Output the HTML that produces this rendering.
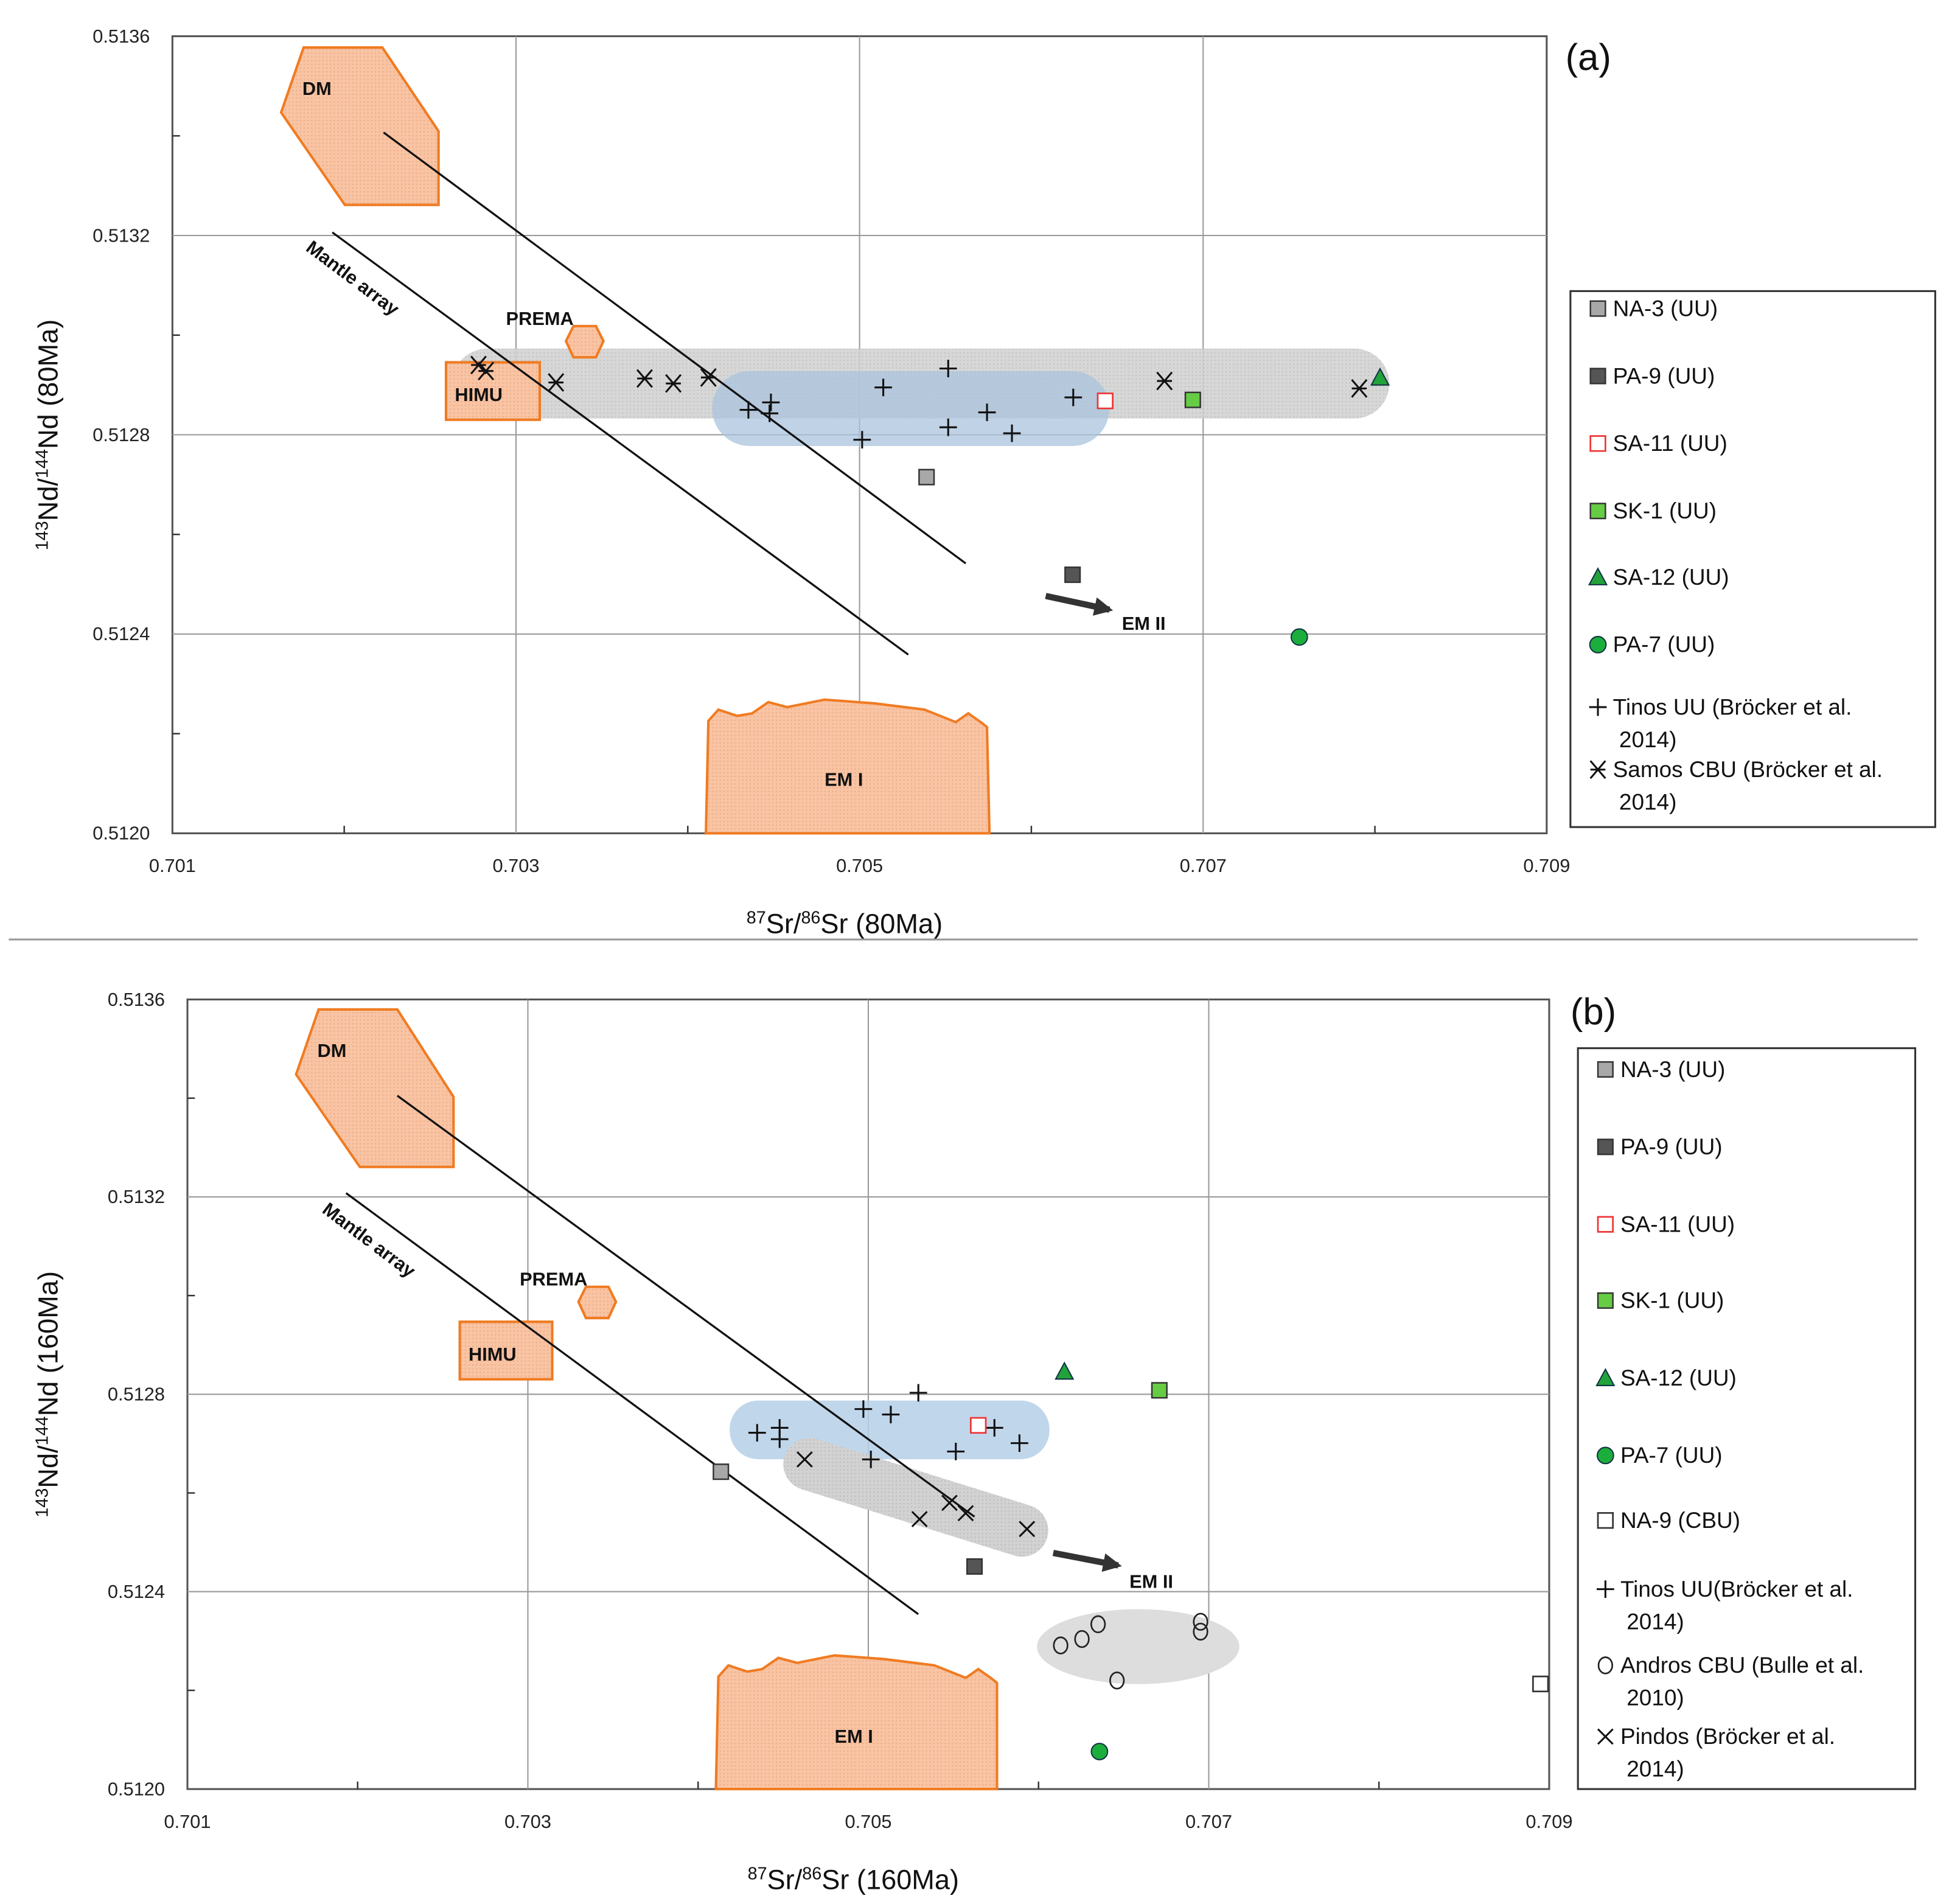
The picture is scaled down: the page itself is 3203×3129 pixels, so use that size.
<!DOCTYPE html>
<html><head><meta charset="utf-8"><style>
html,body{margin:0;padding:0;background:#fff}
svg{display:block;font-family:"Liberation Sans",sans-serif}
.tk{font-size:15px;fill:#222}
.lg{font-size:18px;fill:#111}
.lb{font-size:15px;font-weight:bold;fill:#111}
</style></head><body>
<svg id="chart" width="3203" height="3129" viewBox="0 0 1560 1524" xmlns="http://www.w3.org/2000/svg">
<defs>
<pattern id="dots" width="3" height="3" patternUnits="userSpaceOnUse"><rect width="3" height="3" fill="#d2d2d2"/><rect width="1" height="1" fill="#bbb"/></pattern>
<pattern id="orng" width="3" height="3" patternUnits="userSpaceOnUse"><rect width="3" height="3" fill="#f8c4a4"/><rect width="1" height="1" fill="#f0a880"/></pattern>
<marker id="arr" viewBox="0 0 10 10" refX="8" refY="5" markerWidth="3" markerHeight="3" orient="auto"><path d="M0,0L10,5L0,10z" fill="#333"/></marker>
</defs>
<g id="pa"></g>
<g id="pb"></g>
<line x1="7" y1="752" x2="1535" y2="752" stroke="#999" stroke-width="1.5"/>
</svg>
<script>
// ---- data: panel a (80 Ma) ----
const xTicks = [0.701, 0.703, 0.705, 0.707, 0.709];
const yTicks = [0.5120, 0.5124, 0.5128, 0.5132, 0.5136];
const aNA3 = [[0.70539, 0.512715]];
const aPA9 = [[0.70624, 0.512519]];
const aSA11 = [[0.70643, 0.512868]];
const aSK1 = [[0.70694, 0.51287]];
const aSA12 = [[0.70803, 0.512915]];
const aPA7 = [[0.70756, 0.512394]];
const aTinosX = [0.704353, 0.704484, 0.704476, 0.705015, 0.705138, 0.705516, 0.705516, 0.705742, 0.705887, 0.706244];
const aTinosY = [0.51285, 0.512865, 0.512843, 0.51279, 0.512895, 0.512933, 0.512815, 0.512845, 0.512803, 0.512875];
const aSamosX = [0.702782, 0.702825, 0.703233, 0.703749, 0.703916, 0.70412, 0.706775, 0.707909];
const aSamosY = [0.51294, 0.512928, 0.512905, 0.512913, 0.512903, 0.512915, 0.512908, 0.512893];
// ---- data: panel b (160 Ma) ----
const bNA3 = [[0.704134, 0.512643]];
const bPA9 = [[0.705624, 0.512451]];
const bSA11 = [[0.705646, 0.512737]];
const bSK1 = [[0.70671, 0.512808]];
const bSA12 = [[0.706152, 0.512846]];
const bPA7 = [[0.706358, 0.512076]];
const bNA9 = [[0.708949, 0.512213]];
const bTinosX = [0.704347, 0.704479, 0.704479, 0.704971, 0.705132, 0.705294, 0.705514, 0.705741, 0.705888, 0.705015];
const bTinosY = [0.512722, 0.512732, 0.512709, 0.51277, 0.512759, 0.512803, 0.512684, 0.512732, 0.512701, 0.512668];
const bPindosX = [0.704626, 0.705301, 0.705477, 0.705572, 0.705932];
const bPindosY = [0.512668, 0.512547, 0.51258, 0.512559, 0.512527];
const bAndrosX = [0.70613, 0.706255, 0.70635, 0.706461, 0.706952, 0.706952];
const bAndrosY = [0.512291, 0.512304, 0.512334, 0.51222, 0.512339, 0.512319];

const NS = "http://www.w3.org/2000/svg";
function mk(parent, tag, attrs, txt) {
  const e = document.createElementNS(NS, tag);
  for (const k in attrs) e.setAttribute(k, attrs[k]);
  if (txt !== undefined) e.textContent = txt;
  parent.appendChild(e);
  return e;
}
function scales(x0, x1, y0, y1) {
  return {
    sx: v => x0 + (v - 0.701) / 0.008 * (x1 - x0),
    sy: v => y1 - (v - 0.5120) / 0.0016 * (y1 - y0),
    x0, x1, y0, y1
  };
}
function marker(g, type, cx, cy, name) {
  let e;
  const s = 6;
  if (type === 'sq') e = mk(g, 'rect', {x: cx - s, y: cy - s, width: 2 * s, height: 2 * s, fill: arguments[5], stroke: '#333', 'stroke-width': 1.2});
  else if (type === 'osq') e = mk(g, 'rect', {x: cx - s, y: cy - s, width: 2 * s, height: 2 * s, fill: '#fff', stroke: arguments[5], 'stroke-width': 1.3});
  else if (type === 'tri') e = mk(g, 'path', {d: `M${cx},${cy - 7}L${cx + 7},${cy + 6}L${cx - 7},${cy + 6}Z`, fill: '#22a33a', stroke: '#134', 'stroke-width': 1});
  else if (type === 'circ') e = mk(g, 'circle', {cx, cy, r: 6.5, fill: '#1cae3c', stroke: '#134', 'stroke-width': 1});
  else if (type === 'plus') e = mk(g, 'path', {d: `M${cx - 7},${cy}h14M${cx},${cy - 7}v14`, stroke: '#111', 'stroke-width': 1.5, fill: 'none'});
  else if (type === 'x') e = mk(g, 'path', {d: `M${cx - 6},${cy - 6}L${cx + 6},${cy + 6}M${cx + 6},${cy - 6}L${cx - 6},${cy + 6}`, stroke: '#111', 'stroke-width': 1.5, fill: 'none'});
  else if (type === 'star') e = mk(g, 'path', {d: `M${cx - 6},${cy - 7}L${cx + 6},${cy + 7}M${cx + 6},${cy - 7}L${cx - 6},${cy + 7}M${cx - 6},${cy}h12`, stroke: '#111', 'stroke-width': 1.5, fill: 'none'});
  else if (type === 'o') e = mk(g, 'ellipse', {cx, cy, rx: 5.5, ry: 6.5, fill: 'none', stroke: '#222', 'stroke-width': 1.3});
  
  
  return e;
}
function axes(g, S, xTitle, yTitle, ylabX) {
  const fr = mk(g, 'rect', {x: S.x0, y: S.y0, width: S.x1 - S.x0, height: S.y1 - S.y0, fill: '#fff', stroke: '#555', 'stroke-width': 1.5});
  
  
  xTicks.forEach(v => {
    const x = S.sx(v);
    if (v > 0.701 && v < 0.709) {
      const l = mk(g, 'line', {x1: x, y1: S.y0, x2: x, y2: S.y1, stroke: '#999', 'stroke-width': 1});
      
      
    }
    const t = mk(g, 'text', {x: x, y: S.y1 + 31, class: 'tk', 'text-anchor': 'middle'}, v.toFixed(3));
    
    
  });
  for (let i = 1; i < 8; i += 2) {
    const x = S.sx(0.701 + i * 0.001);
    mk(g, 'line', {x1: x, y1: S.y1, x2: x, y2: S.y1 - 6, stroke: '#333', 'stroke-width': 1.2});
  }
  yTicks.forEach(v => {
    const y = S.sy(v);
    if (v > 0.5120 && v < 0.5136) {
      const l = mk(g, 'line', {x1: S.x0, y1: y, x2: S.x1, y2: y, stroke: '#999', 'stroke-width': 1});
      
      
    }
    const t = mk(g, 'text', {x: ylabX, y: y + 5, class: 'tk', 'text-anchor': 'end'}, v.toFixed(4));
    
    
  });
  for (let i = 1; i < 8; i += 2) {
    const y = S.sy(0.5120 + i * 0.0002);
    mk(g, 'line', {x1: S.x0, y1: y, x2: S.x0 + 6, y2: y, stroke: '#333', 'stroke-width': 1.2});
  }
  const cx = (S.x0 + S.x1) / 2 - 12;
  const xt = mk(g, 'text', {x: cx, y: S.y1 + 80, 'font-size': 22, fill: '#111', 'text-anchor': 'middle'});
  xt.innerHTML = '<tspan baseline-shift="super" font-size="14">87</tspan>Sr/<tspan baseline-shift="super" font-size="14">86</tspan>Sr ' + xTitle;
  
  
  const cy = (S.y0 + S.y1) / 2;
  const yt = mk(g, 'text', {x: 0, y: 0, 'font-size': 22, fill: '#111', 'text-anchor': 'middle', transform: `translate(46,${cy}) rotate(-90)`});
  yt.innerHTML = '<tspan baseline-shift="super" font-size="14">143</tspan>Nd/<tspan baseline-shift="super" font-size="14">144</tspan>Nd ' + yTitle;
  
  
}
function reservoir(g, pts, name, label, lx, ly) {
  const p = mk(g, 'path', {d: pts, fill: 'url(#orng)', stroke: '#f07b22', 'stroke-width': 2});
  
  
  if (label) {
    const t = mk(g, 'text', {x: lx, y: ly, class: 'lb'}, label);
    
    
  }
}
function legend(g, x, y, w, h, items) {
  const b = mk(g, 'rect', {x, y, width: w, height: h, fill: '#fff', stroke: '#333', 'stroke-width': 1.5});
  
  
  items.forEach(it => {
    const m = marker(g, it[0], x + 22, it[2] - 6, 'legend-marker', it[3]);
    const t = mk(g, 'text', {x: x + 34, y: it[2], class: 'lg'});
    const lines = it[1].split('|');
    lines.forEach((ln, i) => mk(t, 'tspan', {x: x + 34, dy: i ? 26 : 0}, ln));
    
    
  });
}
function pts(g, S, arr, type, name, col) { arr.forEach(p => marker(g, type, S.sx(p[0]), S.sy(p[1]), name, col)); }
function ptsXY(g, S, xs, ys, type, name) { xs.forEach((v, i) => marker(g, type, S.sx(v), S.sy(ys[i]), name)); }

// ---------- Panel A ----------
const ga = document.getElementById('pa');
const A = scales(138, 1238, 29, 667);
axes(ga, A, '(80Ma)', '(80Ma)', 120);
let e;
e = mk(ga, 'rect', {x: 362, y: 279, width: 750, height: 56, rx: 28, fill: 'url(#dots)', opacity: 0.9});
 
e = mk(ga, 'rect', {x: 570, y: 297, width: 318, height: 60, rx: 30, fill: '#a9c3dd', opacity: 0.75});
 
reservoir(ga, 'M243,38L306,38L351,105L351,164L276,164L225,90Z', 'dm-field', 'DM', 242, 76);
reservoir(ga, 'M459,261L477,261L483,273L477,286L459,286L453,273Z', 'prema-field', 'PREMA', 405, 260);
reservoir(ga, 'M357,290H432V336H357Z', 'himu-field', 'HIMU', 364, 321);
reservoir(ga, 'M565,667L567,577L575,568L590,573L602,571L615,562L630,566L660,560L700,563L740,568L765,578L775,571L785,578L790,582L792,667Z', 'em1-field', 'EM I', 660, 629);
e = mk(ga, 'line', {x1: 307, y1: 106, x2: 773, y2: 451, stroke: '#111', 'stroke-width': 1.6});
 
e = mk(ga, 'line', {x1: 266, y1: 186, x2: 727, y2: 524, stroke: '#111', 'stroke-width': 1.6});
 
e = mk(ga, 'text', {x: 0, y: 0, class: 'lb', transform: 'translate(244,200) rotate(37)'}, 'Mantle array');
 
e = mk(ga, 'line', {x1: 837, y1: 477, x2: 888, y2: 488, stroke: '#333', 'stroke-width': 5, 'marker-end': 'url(#arr)'});
 
e = mk(ga, 'text', {x: 898, y: 504, class: 'lb'}, 'EM II');
 
ptsXY(ga, A, aSamosX, aSamosY, 'star', 'samos-point');
ptsXY(ga, A, aTinosX, aTinosY, 'plus', 'tinos-point');
pts(ga, A, aNA3, 'sq', 'na3-point', '#a8a8a8');
pts(ga, A, aPA9, 'sq', 'pa9-point', '#555');
pts(ga, A, aSA11, 'osq', 'sa11-point', '#e33');
pts(ga, A, aSK1, 'sq', 'sk1-point', '#6c4');
pts(ga, A, aSA12, 'tri', 'sa12-point');
pts(ga, A, aPA7, 'circ', 'pa7-point');
e = mk(ga, 'text', {x: 1253, y: 56, 'font-size': 30, fill: '#111'}, '(a)');
 
legend(ga, 1257, 233, 292, 429, [
  ['sq', 'NA-3 (UU)', 253, '#a8a8a8'], ['sq', 'PA-9 (UU)', 307, '#555'], ['osq', 'SA-11 (UU)', 361, '#e33'],
  ['sq', 'SK-1  (UU)', 415, '#6c4'], ['tri', 'SA-12 (UU)', 468], ['circ', 'PA-7 (UU)', 522],
  ['plus', 'Tinos  UU  (Bröcker et al.| 2014)', 572], ['star', 'Samos CBU (Bröcker et al.| 2014)', 622]
]);

// ---------- Panel B ----------
const gb = document.getElementById('pb');
const B = scales(150, 1240, 800, 1432);
axes(gb, B, '(160Ma)', '(160Ma)', 132);
e = mk(gb, 'rect', {x: 584, y: 1121, width: 256, height: 47, rx: 23, fill: '#b5cfe8', opacity: 0.85});
 
e = mk(gb, 'line', {x1: 648, y1: 1172, x2: 818, y2: 1225, stroke: 'url(#dots)', 'stroke-width': 42, 'stroke-linecap': 'round'});
 
e = mk(gb, 'ellipse', {cx: 911, cy: 1318, rx: 81, ry: 30, fill: '#ddd'});
 
reservoir(gb, 'M255,808L318,808L363,878L363,934L288,934L237,860Z', 'dm-field', 'DM', 254, 846);
reservoir(gb, 'M469,1030L487,1030L493,1042L487,1055L469,1055L463,1042Z', 'prema-field', 'PREMA', 416, 1029);
reservoir(gb, 'M368,1058H442V1104H368Z', 'himu-field', 'HIMU', 375, 1089);
reservoir(gb, 'M573,1432L575,1342L583,1333L598,1338L610,1336L623,1327L638,1331L668,1325L708,1328L748,1333L773,1343L783,1336L793,1343L798,1347L798,1432Z', 'em1-field', 'EM I', 668, 1395);
e = mk(gb, 'line', {x1: 318, y1: 877, x2: 780, y2: 1214, stroke: '#111', 'stroke-width': 1.6});
 
e = mk(gb, 'line', {x1: 277, y1: 955, x2: 735, y2: 1292, stroke: '#111', 'stroke-width': 1.6});
 
e = mk(gb, 'text', {x: 0, y: 0, class: 'lb', transform: 'translate(257,970) rotate(37)'}, 'Mantle array');
 
e = mk(gb, 'line', {x1: 843, y1: 1243, x2: 895, y2: 1253, stroke: '#333', 'stroke-width': 5, 'marker-end': 'url(#arr)'});
 
e = mk(gb, 'text', {x: 904, y: 1271, class: 'lb'}, 'EM II');
 
ptsXY(gb, B, bTinosX, bTinosY, 'plus', 'tinos-point');
ptsXY(gb, B, bPindosX, bPindosY, 'x', 'pindos-point');
ptsXY(gb, B, bAndrosX, bAndrosY, 'o', 'andros-point');
pts(gb, B, bNA3, 'sq', 'na3-point', '#a8a8a8');
pts(gb, B, bPA9, 'sq', 'pa9-point', '#555');
pts(gb, B, bSA11, 'osq', 'sa11-point', '#e33');
pts(gb, B, bSK1, 'sq', 'sk1-point', '#6c4');
pts(gb, B, bSA12, 'tri', 'sa12-point');
pts(gb, B, bPA7, 'circ', 'pa7-point');
pts(gb, B, bNA9, 'osq', 'na9-point', '#333');
e = mk(gb, 'text', {x: 1257, y: 820, 'font-size': 30, fill: '#111'}, '(b)');
 
legend(gb, 1263, 839, 270, 593, [
  ['sq', 'NA-3 (UU)', 862, '#a8a8a8'], ['sq', 'PA-9 (UU)', 924, '#555'], ['osq', 'SA-11 (UU)', 986, '#e33'],
  ['sq', 'SK-1 (UU)', 1047, '#6c4'], ['tri', 'SA-12 (UU)', 1109], ['circ', 'PA-7 (UU)', 1171],
  ['osq', 'NA-9 (CBU)', 1223, '#333'], ['plus', 'Tinos UU(Bröcker et al.| 2014)', 1278],
  ['o', 'Andros CBU (Bulle et al.| 2010)', 1339], ['x', 'Pindos  (Bröcker et al.| 2014)', 1396]
]);
</script>
</body></html>
